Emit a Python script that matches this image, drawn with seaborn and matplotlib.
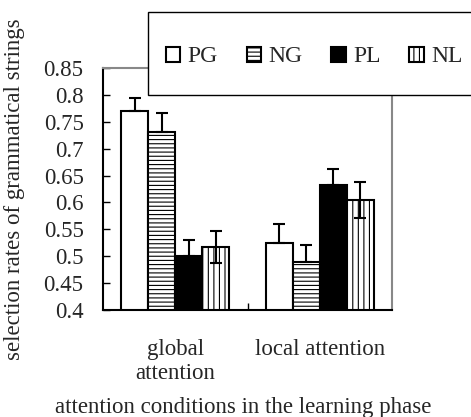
import pandas as pd
import matplotlib
matplotlib.use("Agg")
import matplotlib.pyplot as plt
import matplotlib.ticker as mticker
from matplotlib.patches import Rectangle
import seaborn as sns

# values
conditions = ["global\nattention", "local attention"]
types = ["PG", "NG", "PL", "NL"]
global_vals = [0.770, 0.731, 0.501, 0.517]
local_vals = [0.525, 0.490, 0.632, 0.605]
global_err = [0.025, 0.035, 0.030, 0.030]
local_err = [0.034, 0.030, 0.030, 0.033]
# only the NL bars show the lower half of the error bar
lower_shown = [False, False, False, True]

fills = ["white", "white", "black", "white"]
hatches = ["", "----", "", "|||"]

rows = []
for t, g, l in zip(types, global_vals, local_vals):
    rows.append({"condition": conditions[0], "type": t, "rate": g})
    rows.append({"condition": conditions[1], "type": t, "rate": l})
df = pd.DataFrame(rows)

sns.set_style("white")
plt.rcParams["font.family"] = ["Liberation Serif", "DejaVu Serif"]
plt.rcParams["hatch.linewidth"] = 0.8
plt.rcParams["font.size"] = 16.5

fig = plt.figure(figsize=(4.71, 4.17), dpi=100)
ax = fig.add_axes([103 / 471, 1 - 310 / 417, 289 / 471, 242 / 417])

sns.barplot(data=df, x="condition", y="rate", hue="type", order=conditions,
            hue_order=types, palette=fills, width=0.75, edgecolor="black",
            linewidth=1.5, ax=ax, legend=False, saturation=1, errorbar=None)

bar_conts = list(ax.containers)
for i, cont in enumerate(bar_conts):
    for p in cont.patches:
        p.set_hatch(hatches[i])
        p.set_facecolor(fills[i])
        p.set_edgecolor("black")
    xs = [p.get_x() + p.get_width() / 2 for p in cont.patches]
    ys = [p.get_height() for p in cont.patches]
    up = [global_err[i], local_err[i]]
    lo = up if lower_shown[i] else [0, 0]
    ax.errorbar(xs, ys, yerr=[lo, up], fmt="none", ecolor="black",
                elinewidth=1.5, capsize=4.3, capthick=1.5, zorder=5)

ax.set_ylim(0.4, 0.85)
ax.set_xlim(-0.5, 1.5)
ax.yaxis.set_major_locator(mticker.MultipleLocator(0.05))
ax.yaxis.set_major_formatter(mticker.FuncFormatter(lambda v, p: "%g" % round(v, 2)))
ax.tick_params(axis="y", direction="in", length=5, width=1, color="black",
               pad=14, labelsize=16.5, left=True)
ax.tick_params(axis="x", which="major", length=0, pad=21, labelsize=16.5)
ax.xaxis.set_minor_locator(mticker.FixedLocator([0.5]))
ax.tick_params(axis="x", which="minor", direction="in", length=5, width=1,
               color="black", bottom=True)

for s in ["left", "bottom"]:
    ax.spines[s].set_color("black")
    ax.spines[s].set_linewidth(1.5)
for s in ["top", "right"]:
    ax.spines[s].set_color("#888888")
    ax.spines[s].set_linewidth(1.5)

ax.set_ylabel("selection rates of grammatical strings", fontsize=16.5)
ax.yaxis.set_label_coords(-0.27, 0.5)
ax.set_xlabel("attention conditions in the learning phase", fontsize=16.5)
ax.xaxis.set_label_coords(0.485, -0.36)

# legend box (runs past the right edge like the original)
fig.patches.append(Rectangle((148 / 471, 1 - 95 / 417), 340 / 471, 83 / 417,
                             transform=fig.transFigure, facecolor="white",
                             edgecolor="black", linewidth=1, zorder=10))
handles = [cont.patches[0] for cont in bar_conts]
leg = fig.legend(handles, types, loc="center left",
                 bbox_to_anchor=(154 / 471, 1 - 57 / 417), ncol=4,
                 frameon=False, borderpad=0, handlelength=0.62,
                 handleheight=0.62, handletextpad=0.3, columnspacing=1.22,
                 fontsize=17)
leg.set_zorder(11)

fig.savefig("out.png", dpi=100)
